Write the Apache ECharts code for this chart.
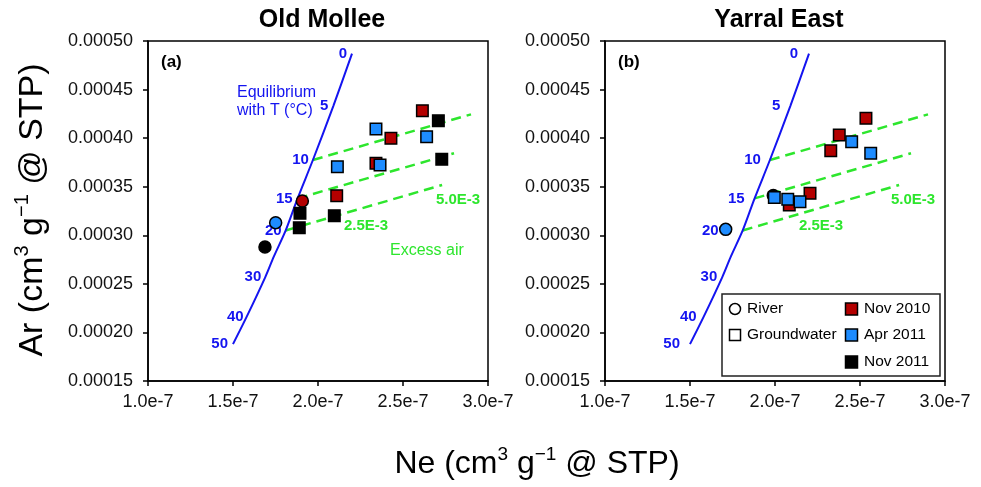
<!DOCTYPE html>
<html><head><meta charset="utf-8">
<script src="https://cdn.jsdelivr.net/npm/echarts@6/dist/echarts.min.js"></script>
<style>html,body{margin:0;padding:0;background:#fff}#c{width:981px;height:487px}</style>
</head><body><div id="c"></div>
<script>
// ---------------- DATA ----------------
const panelTitles = ['Old Mollee', 'Yarral East'];
const panelTags = ['(a)', '(b)'];

// Equilibrium line (Ne, Ar) with temperature labels (°C)
const eqTempLabels = ['0', '5', '10', '15', '20', '', '30', '40', '50'];
const eqNe = [2.20e-7, 2.09e-7, 1.97e-7, 1.88e-7, 1.81e-7, 1.74e-7, 1.69e-7, 1.58e-7, 1.50e-7];
const eqAr = [4.87e-4, 4.33e-4, 3.775e-4, 3.38e-4, 3.05e-4, 2.78e-4, 2.57e-4, 2.16e-4, 1.88e-4];

// Excess air lines starting at 10, 15, 20 °C
const exStartNe = [1.97e-7, 1.88e-7, 1.81e-7];
const exStartAr = [3.775e-4, 3.38e-4, 3.05e-4];
const exEndNe = [2.90e-7, 2.80e-7, 2.73e-7];
const exEndAr = [4.245e-4, 3.844e-4, 3.518e-4];

// Old Mollee  [Ne, Ar]
const omRiverNov2010 = [[1.908e-7, 3.353e-4]];
const omRiverApr2011 = [[1.751e-7, 3.13e-4]];
const omRiverNov2011 = [[1.688e-7, 2.88e-4]];
const omGwNov2010 = [[2.614e-7, 4.283e-4], [2.429e-7, 3.998e-4], [2.341e-7, 3.741e-4], [2.11e-7, 3.408e-4]];
const omGwApr2011 = [[2.341e-7, 4.094e-4], [2.639e-7, 4.015e-4], [2.114e-7, 3.706e-4], [2.365e-7, 3.723e-4]];
const omGwNov2011 = [[2.708e-7, 4.18e-4], [2.728e-7, 3.782e-4], [2.096e-7, 3.202e-4], [1.894e-7, 3.226e-4], [1.89e-7, 3.078e-4]];

// Yarral East [Ne, Ar]
const yeRiverNov2010 = [];
const yeRiverApr2011 = [[1.71e-7, 3.061e-4]];
const yeRiverNov2011 = [[1.99e-7, 3.41e-4]];
const yeGwNov2010 = [[2.535e-7, 4.204e-4], [2.378e-7, 4.032e-4], [2.328e-7, 3.871e-4], [2.206e-7, 3.432e-4], [2.084e-7, 3.312e-4]];
const yeGwApr2011 = [[2.451e-7, 3.963e-4], [2.563e-7, 3.844e-4], [1.996e-7, 3.39e-4], [2.075e-7, 3.37e-4], [2.147e-7, 3.346e-4]];
const yeGwNov2011 = [];

const legendGroups = ['River', 'Groundwater'];
const legendDates = ['Nov 2010', 'Apr 2011', 'Nov 2011'];

// ---------------- STYLE ----------------
const FONT = 'Liberation Sans, Arial, sans-serif';
const BLUE = '#1414f0';
const GREEN = '#2de62d';
const DATE_COLORS = ['#b40000', '#1e8cff', '#000000'];
const grids = [
  { left: 148, top: 41, width: 340, height: 340 },
  { left: 605, top: 41, width: 340, height: 340 }
];
const tempLabelDist = [[5, 5, 4, 5, 4, 4, 4, 3, 5], [11, 10, 9, 10, 24, 8, 5, 7, 10]];

const panels = [
  { river: [omRiverNov2010, omRiverApr2011, omRiverNov2011], gw: [omGwNov2010, omGwApr2011, omGwNov2011] },
  { river: [yeRiverNov2010, yeRiverApr2011, yeRiverNov2011], gw: [yeGwNov2010, yeGwApr2011, yeGwNov2011] }
];

function buildPanel(p) {
  const s = [];
  const ax = { xAxisIndex: p, yAxisIndex: p };
  for (let k = 0; k < exStartNe.length; k++) {
    s.push(Object.assign({
      type: 'line', silent: true, symbol: 'none', z: 2,
      data: [[exStartNe[k], exStartAr[k]], [exEndNe[k], exEndAr[k]]],
      lineStyle: { color: GREEN, width: 2.5, type: [10, 6] }
    }, ax));
  }
  s.push(Object.assign({
    type: 'line', silent: true, symbol: 'none', smooth: 0.3, z: 3,
    data: eqNe.map((v, i) => [v, eqAr[i]]),
    lineStyle: { color: BLUE, width: 2 }
  }, ax));
  s.push(Object.assign({
    type: 'scatter', silent: true, symbolSize: 0, z: 3,
    itemStyle: { opacity: 1 },
    data: eqNe.map((v, i) => ({
      value: [v, eqAr[i]], name: eqTempLabels[i],
      label: { distance: tempLabelDist[p][i] }
    })),
    label: { show: true, position: 'left', formatter: '{b}', color: BLUE, fontWeight: 'bold', fontSize: 15, fontFamily: FONT }
  }, ax));
  const P = panels[p];
  P.river.forEach((d, i) => {
    s.push(Object.assign({
      type: 'scatter', symbol: 'circle', symbolSize: 12, z: 4, data: d,
      itemStyle: { color: DATE_COLORS[i], borderColor: '#000', borderWidth: 1.5, opacity: 1 }
    }, ax));
  });
  P.gw.forEach((d, i) => {
    s.push(Object.assign({
      type: 'scatter', symbol: 'rect', symbolSize: 11.5, z: 5, data: d,
      itemStyle: { color: DATE_COLORS[i], borderColor: '#000', borderWidth: 1.5, opacity: 1 }
    }, ax));
  });
  return s;
}

function xAxisCfg(i) {
  return {
    type: 'value', gridIndex: i, min: 1.0e-7, max: 3.0e-7, interval: 0.5e-7,
    axisLine: { show: true, lineStyle: { color: '#000', width: 1.5 } },
    axisTick: { show: true, length: 5, lineStyle: { color: '#000', width: 1.5 } },
    splitLine: { show: false },
    axisLabel: { color: '#111', fontSize: 18, fontFamily: FONT, margin: 12,
      formatter: v => v.toExponential(1) }
  };
}
function yAxisCfg(i) {
  return {
    type: 'value', gridIndex: i, min: 0.00015, max: 0.0005, interval: 0.00005,
    axisLine: { show: true, lineStyle: { color: '#000', width: 1.5 } },
    axisTick: { show: true, length: 5, lineStyle: { color: '#000', width: 1.5 } },
    splitLine: { show: false },
    axisLabel: { color: '#111', fontSize: 18, fontFamily: FONT, margin: 15,
      formatter: v => v.toFixed(5) }
  };
}

function txt(x, y, text, o) {
  return { type: 'text', x: x, y: y, silent: true, z: 100,
    style: Object.assign({ text: text, fontFamily: FONT, fill: '#000', align: 'left', verticalAlign: 'middle' }, o || {}) };
}

const graphics = [];
// titles and tags
panelTitles.forEach((t, i) => {
  const g = grids[i];
  graphics.push(txt(g.left + g.width / 2 + 4, 20, t, { fontSize: 25, fontWeight: 'bold', align: 'center' }));
  graphics.push(txt(g.left + 13, 62, panelTags[i], { fontSize: 17, fontWeight: 'bold' }));
  // excess air labels
  const dx = i === 0 ? 0 : 455;
  graphics.push(txt(344 + dx, 226, '2.5E-3', { fontSize: 15, fontWeight: 'bold', fill: GREEN }));
  graphics.push(txt(436 + dx, 200, '5.0E-3', { fontSize: 15, fontWeight: 'bold', fill: GREEN }));
});
graphics.push(txt(237, 102, 'Equilibrium\nwith T (°C)', { fontSize: 16, fill: BLUE, lineHeight: 18 }));
graphics.push(txt(390, 251, 'Excess air', { fontSize: 16, fill: GREEN }));

// axis titles with superscripts
function richAx(size) {
  return {
    a: { fontSize: size, fontFamily: FONT, fill: '#000', lineHeight: Math.round(size * 1.2) },
    s: { fontSize: Math.round(size * 0.6), fontFamily: FONT, fill: '#000', verticalAlign: 'top' }
  };
}
graphics.push({ type: 'text', silent: true, x: 537, y: 464, z: 100,
  style: { text: '{a|Ne (cm}{s|3}{a| g}{s|\u22121}{a| @ STP)}', rich: richAx(32), align: 'center', verticalAlign: 'middle' } });
graphics.push({ type: 'text', silent: true, x: 33, y: 210, rotation: Math.PI / 2, z: 100,
  style: { text: '{a|Ar (cm}{s|3}{a| g}{s|\u22121}{a| @ STP)}', rich: richAx(34), align: 'center', verticalAlign: 'middle' } });

// legend (Yarral East panel)
const L = { x: 722, y: 294, w: 218, h: 82 };
graphics.push({ type: 'rect', silent: true, z: 90, shape: { x: L.x, y: L.y, width: L.w, height: L.h },
  style: { fill: '#fff', stroke: '#222', lineWidth: 1.5 } });
graphics.push({ type: 'circle', silent: true, z: 100, shape: { cx: 735, cy: 309, r: 5.5 },
  style: { fill: '#fff', stroke: '#000', lineWidth: 1.5 } });
graphics.push(txt(747, 309, legendGroups[0], { fontSize: 15.5 }));
graphics.push({ type: 'rect', silent: true, z: 100, shape: { x: 729.5, y: 329.5, width: 11, height: 11 },
  style: { fill: '#fff', stroke: '#000', lineWidth: 1.5 } });
graphics.push(txt(747, 335, legendGroups[1], { fontSize: 15.5 }));
legendDates.forEach((d, i) => {
  const cy = [309, 335, 362][i];
  graphics.push({ type: 'rect', silent: true, z: 100, shape: { x: 845.5, y: cy - 6, width: 12, height: 12 },
    style: { fill: DATE_COLORS[i], stroke: '#000', lineWidth: 1.5 } });
  graphics.push(txt(864, cy, d, { fontSize: 15.5 }));
});

const chart = echarts.init(document.getElementById('c'), null, { renderer: 'canvas' });
chart.setOption({
  backgroundColor: '#fff',
  animation: false,
  grid: grids.map(g => Object.assign({ show: true, borderColor: '#000', borderWidth: 1.5, backgroundColor: 'transparent' }, g)),
  xAxis: [xAxisCfg(0), xAxisCfg(1)],
  yAxis: [yAxisCfg(0), yAxisCfg(1)],
  series: buildPanel(0).concat(buildPanel(1)),
  graphic: graphics
});
</script>
</body></html>
